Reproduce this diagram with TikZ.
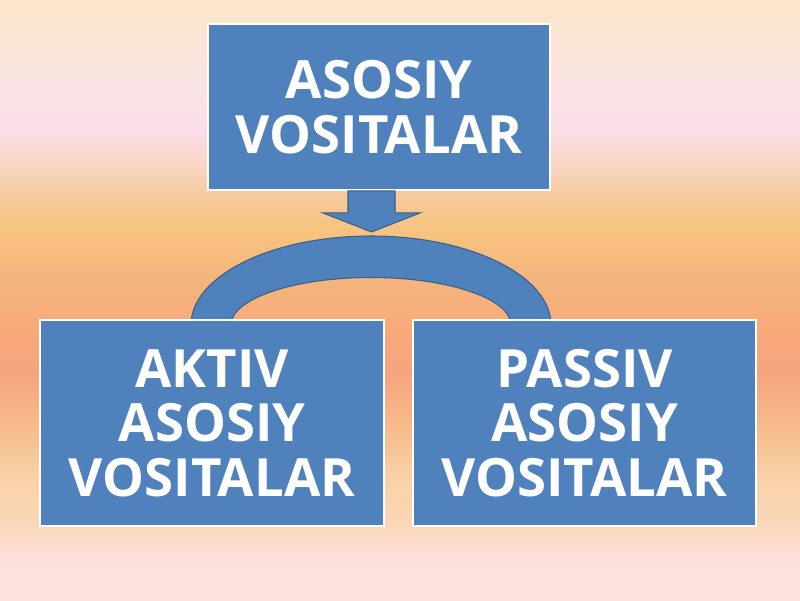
\documentclass[tikz,border=0pt]{standalone}
\usepackage{fontspec}
\setmainfont{Open Sans}
\usepackage{tikz}
\usetikzlibrary{positioning,calc}
\usepackage{xcolor}

\definecolor{boxblue}{HTML}{4F81BD}
\definecolor{edgeblue}{HTML}{3A5F8B}
\definecolor{bgA}{HTML}{FDE2E0}
\definecolor{bgB}{HTML}{FCE0DC}
\definecolor{bgC}{HTML}{FAD6B7}
\definecolor{bgD}{HTML}{F8D3A8}
\definecolor{bgE}{HTML}{F6C597}
\definecolor{bgF}{HTML}{F6B888}
\definecolor{bgG}{HTML}{F6A47E}
\definecolor{bgH}{HTML}{F7AA78}
\definecolor{bgI}{HTML}{F5B57D}
\definecolor{bgJ}{HTML}{F7C37E}
\definecolor{bgK}{HTML}{F5C898}
\definecolor{bgL}{HTML}{F8D6C4}
\definecolor{bgM}{HTML}{FADDE8}
\definecolor{bgN}{HTML}{F9E2E6}
\definecolor{bgO}{HTML}{FBE6C8}

\pgfdeclareverticalshading{slidebg}{100bp}{
  color(0bp)=(bgA); color(25bp)=(bgA); color(28.33bp)=(bgB);
  color(31.67bp)=(bgC); color(35bp)=(bgD); color(37.5bp)=(bgE);
  color(40bp)=(bgF); color(44.17bp)=(bgG); color(47.5bp)=(bgH);
  color(51.67bp)=(bgI); color(55.83bp)=(bgJ); color(58.33bp)=(bgK);
  color(61.25bp)=(bgL); color(64.17bp)=(bgM); color(67.08bp)=(bgN);
  color(75bp)=(bgO); color(100bp)=(bgO)}

\tikzset{
  bluebox/.style={rectangle, fill=boxblue, draw=white, line width=1.1pt,
    text=white, font=\bfseries\fontsize{30}{31}\selectfont, align=center},
  blockline/.style={fill=boxblue, draw=edgeblue, line width=0.6pt}
}

\begin{document}
\begin{tikzpicture}
  \useasboundingbox (0,0) rectangle (16,12);
  \shade [shading=slidebg] (0,0) rectangle (16,12);
  % arch between the two lower boxes
  \coordinate (archc) at (7.42,5.5);
  \draw [blockline] ($(archc)+(-3.6,0)$) arc [start angle=180, end angle=0, x radius=3.6, y radius=1.78]
    -- ++(-0.8,0) arc [start angle=0, end angle=180, x radius=2.8, y radius=0.95] -- cycle;
  \node [bluebox, minimum width=6.84cm, minimum height=3.32cm] (main) at (7.58,9.86) {ASOSIY\\VOSITALAR};
  \node [bluebox, minimum width=6.88cm, minimum height=4.12cm] (aktiv) at (4.24,3.54) {AKTIV\\ASOSIY\\VOSITALAR};
  \node [bluebox, minimum width=6.86cm, minimum height=4.12cm] (passiv) at (11.69,3.54) {PASSIV\\ASOSIY\\VOSITALAR};
  % block arrow down from the top box
  \draw [blockline] ([xshift=-0.15cm]main.south) ++(-0.47,0) -- ++(0,-0.44) -- ++(-0.5,0)
    -- ++(0.97,-0.38) -- ++(0.97,0.38) -- ++(-0.5,0) -- ++(0,0.44) -- cycle;
\end{tikzpicture}
\end{document}
